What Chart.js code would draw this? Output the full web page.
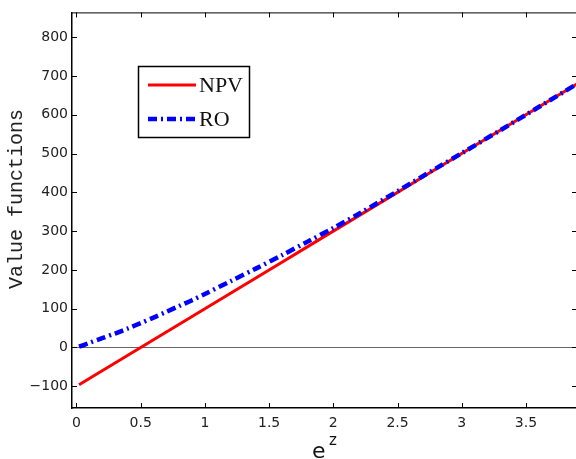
<!DOCTYPE html>
<html>
<head>
<meta charset="utf-8">
<script src="https://cdn.jsdelivr.net/npm/chart.js@4.4.0/dist/chart.umd.min.js"></script>
<style>
  html, body { margin: 0; padding: 0; background: #fff; }
  #wrap { width: 576px; height: 459px; position: relative; }
</style>
</head>
<body>
<div id="wrap"><canvas id="grafica"></canvas></div>
<script>
// valores
const ezValues = [0.02, 0.1, 0.2, 0.3, 0.4, 0.5, 0.6, 0.7, 0.8, 0.9, 1.0, 1.2, 1.4, 1.6, 1.8, 2.0, 2.2, 2.5, 2.8, 3.0, 3.3, 3.6, 3.9];
const npvValues = [-96, -80, -60, -40, -20, 0, 20, 40, 60, 80, 100, 140, 180, 220, 260, 300, 340, 400, 460, 500, 560, 620, 680];
const roValues = [2, 12, 24, 36, 49, 63, 77, 92, 107, 122, 138, 171, 204, 238, 273, 308, 345, 403, 462, 501, 560, 620, 680];
const xTicks = [0, 0.5, 1, 1.5, 2, 2.5, 3, 3.5];
const yTicks = [-100, 0, 100, 200, 300, 400, 500, 600, 700, 800];
const seriesNames = ['NPV', 'RO'];

const toPoints = (xs, ys) => xs.map((x, i) => ({ x: x, y: ys[i] }));

// ticks hacia dentro, borde superior, leyenda y titulos
const extrasPlugin = {
  id: 'extras',
  afterDraw(chart) {
    const ctx = chart.ctx;
    const area = chart.chartArea;
    const xs = chart.scales.x;
    const ys = chart.scales.y;
    ctx.save();
    ctx.strokeStyle = '#000';
    ctx.lineWidth = 1;
    ctx.beginPath();
    ctx.moveTo(area.left, area.top + 0.5);
    ctx.lineTo(area.right, area.top + 0.5);
    xTicks.forEach(v => {
      const px = Math.round(xs.getPixelForValue(v)) + 0.5;
      ctx.moveTo(px, area.bottom);
      ctx.lineTo(px, area.bottom - 5);
      ctx.moveTo(px, area.top);
      ctx.lineTo(px, area.top + 5);
    });
    yTicks.forEach(v => {
      const py = Math.round(ys.getPixelForValue(v)) + 0.5;
      ctx.moveTo(area.left, py);
      ctx.lineTo(area.left + 5, py);
      ctx.moveTo(area.right, py);
      ctx.lineTo(area.right - 4, py);
    });
    ctx.stroke();

    // leyenda
    const bx = 138, by = 66, bw = 111, bh = 71;
    ctx.fillStyle = '#fff';
    ctx.fillRect(bx, by, bw, bh);
    ctx.strokeStyle = '#000';
    ctx.lineWidth = 1.5;
    ctx.strokeRect(bx + 0.5, by + 0.5, bw, bh);
    chart.data.datasets.slice().sort((a, b) => a.legendIndex - b.legendIndex).forEach((ds, i) => {
      const ly = by + 19 + i * 34;
      ctx.strokeStyle = ds.borderColor;
      ctx.lineWidth = ds.borderWidth;
      ctx.setLineDash(ds.borderDash || []);
      ctx.beginPath();
      ctx.moveTo(bx + 10, ly);
      ctx.lineTo(bx + 58, ly);
      ctx.stroke();
      ctx.setLineDash([]);
      ctx.fillStyle = '#111';
      ctx.font = '22px "Liberation Serif"';
      ctx.textBaseline = 'middle';
      ctx.textAlign = 'left';
      ctx.fillText(ds.label, bx + 61, ly + 1);
    });

    // titulo eje y
    ctx.save();
    ctx.translate(17, 199);
    ctx.rotate(-Math.PI / 2);
    ctx.font = '20px "Liberation Mono"';
    ctx.fillStyle = '#222';
    ctx.textAlign = 'center';
    ctx.textBaseline = 'middle';
    ctx.fillText('Value functions', 0, 0);
    ctx.restore();

    // titulo eje x
    ctx.fillStyle = '#111';
    ctx.textAlign = 'left';
    ctx.textBaseline = 'alphabetic';
    ctx.font = '22px "DejaVu Sans"';
    ctx.fillText('e', 312, 458);
    ctx.font = '15px "DejaVu Sans"';
    ctx.fillText('z', 329, 445);
    ctx.restore();
  }
};

const ctx = document.getElementById('grafica').getContext('2d');
new Chart(ctx, {
  type: 'line',
  data: {
    datasets: [{
      label: seriesNames[0],
      legendIndex: 0,
      data: toPoints(ezValues, npvValues),
      borderColor: '#ff0000',
      borderWidth: 3,
      pointRadius: 0,
      tension: 0,
      order: 1
    }, {
      label: seriesNames[1],
      legendIndex: 1,
      data: toPoints(ezValues, roValues),
      borderColor: '#0000ff',
      borderWidth: 4.5,
      borderDash: [9, 4, 2, 4],
      pointRadius: 0,
      tension: 0.3,
      order: 0
    }]
  },
  options: {
    responsive: true,
    maintainAspectRatio: false,
    animation: false,
    layout: { padding: { top: 9, right: 0, left: 0, bottom: 0 } },
    plugins: {
      legend: { display: false },
      tooltip: { enabled: false }
    },
    scales: {
      x: {
        type: 'linear',
        min: -0.035,
        max: 3.89,
        afterBuildTicks: axis => { axis.ticks = xTicks.map(v => ({ value: v })); },
        afterFit: axis => { axis.height = 51; },
        grid: { drawOnChartArea: false, drawTicks: false },
        border: { display: true, color: '#000', width: 1.5 },
        ticks: {
          padding: 7,
          color: '#222',
          font: { family: 'DejaVu Sans', size: 14 },
          callback: v => String(v)
        }
      },
      y: {
        type: 'linear',
        min: -156,
        max: 864,
        afterBuildTicks: axis => { axis.ticks = yTicks.map(v => ({ value: v })); },
        afterFit: axis => { axis.width = 72; },
        grid: {
          drawTicks: false,
          color: c => (c.tick && c.tick.value === 0) ? '#666' : 'rgba(0,0,0,0)',
          lineWidth: 1
        },
        border: { display: true, color: '#000', width: 1.5 },
        ticks: {
          padding: 4,
          color: '#222',
          font: { family: 'DejaVu Sans', size: 14 },
          callback: v => v < 0 ? '\u2212' + Math.abs(v) : String(v)
        }
      }
    }
  },
  plugins: [extrasPlugin]
});
</script>
</body>
</html>
